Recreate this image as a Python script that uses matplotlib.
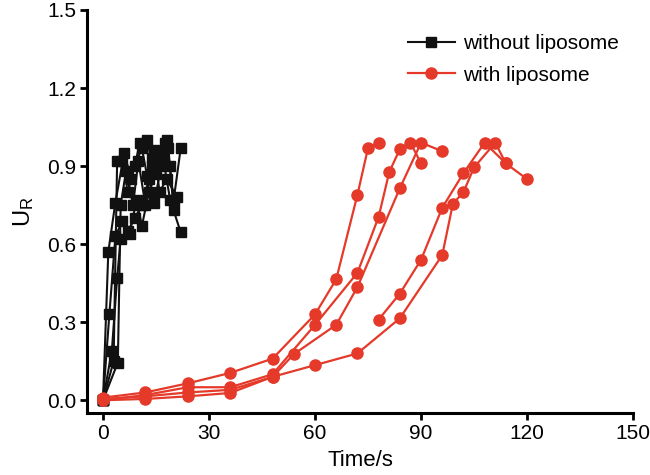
import matplotlib
matplotlib.use("Agg")
import matplotlib.pyplot as plt

plt.rcParams['font.family'] = ['Liberation Sans', 'DejaVu Sans']
plt.rcParams['mathtext.default'] = 'regular'

# without liposome (black squares), several repeats
black_t = [
    [0, 1.5, 3.5, 6, 8, 10.5, 12.5, 14, 16, 18, 20, 22],
    [0, 1.8, 3.5, 5.5, 7.5, 9.5, 11, 13, 15, 17, 19, 22],
    [0, 2.5, 4, 5, 7, 9, 11, 13, 14.5, 16.5, 18.5, 20],
    [0, 3, 4, 5.5, 7, 9, 11, 12.5, 14.5, 16, 18, 21],
    [0, 4.2, 5, 6.5, 8.5, 10, 12, 14, 17.5, 19],
]
black_u = [
    [0, 0.57, 0.76, 0.95, 0.85, 0.99, 1.0, 0.90, 0.95, 1.0, 0.77, 0.97],
    [0, 0.33, 0.63, 0.69, 0.64, 0.77, 0.67, 0.80, 0.87, 0.93, 0.77, 0.645],
    [0, 0.19, 0.47, 0.62, 0.65, 0.70, 0.75, 0.85, 0.76, 0.90, 0.97, 0.73],
    [0, 0.15, 0.92, 0.92, 0.80, 0.90, 0.97, 0.86, 0.96, 0.80, 0.85, 0.78],
    [0, 0.145, 0.75, 0.88, 0.75, 0.92, 0.75, 0.93, 0.99, 0.90],
]

# with liposome (red circles)
red_t = [
    [0, 12, 24, 36, 48, 60, 66, 72, 75, 78],
    [0, 12, 24, 36, 48, 60, 72, 78, 81, 84, 87, 90],
    [0, 12, 24, 36, 48, 54, 66, 72, 84, 90, 96],
    [0, 12, 24, 36, 48, 60, 72, 84, 96, 99, 102, 105, 111, 114, 120],
    [78, 84, 90, 96, 102, 108, 114],
]
red_u = [
    [0.01, 0.03, 0.065, 0.105, 0.16, 0.33, 0.465, 0.79, 0.97, 0.99],
    [0.0, 0.02, 0.05, 0.05, 0.10, 0.29, 0.49, 0.705, 0.877, 0.965, 0.99, 0.91],
    [0.005, 0.015, 0.03, 0.04, 0.09, 0.177, 0.29, 0.435, 0.815, 0.99, 0.957],
    [0.0, 0.005, 0.015, 0.028, 0.09, 0.135, 0.18, 0.315, 0.558, 0.755, 0.80, 0.895, 0.99, 0.91, 0.85],
    [0.31, 0.41, 0.54, 0.74, 0.873, 0.99, 0.91],
]

black = '#111111'
red = '#e5392a'

fig = plt.figure(figsize=(6.5, 4.75), dpi=100)
ax = fig.add_axes([0.134, 0.13, 0.84, 0.849])

for i in range(len(black_t)):
    ax.plot(black_t[i], black_u[i], color=black, marker='s', markersize=7, lw=1.5,
            label='without liposome' if i == 0 else None)
for i in range(len(red_t)):
    ax.plot(red_t[i], red_u[i], color=red, marker='o', markersize=8, lw=1.6,
            label='with liposome' if i == 0 else None)

ax.set_xlim(-4.5, 150)
ax.set_ylim(-0.05, 1.5)
ax.set_xticks([0, 30, 60, 90, 120, 150])
ax.set_yticks([0.0, 0.3, 0.6, 0.9, 1.2, 1.5])
ax.set_yticklabels(['0.0', '0.3', '0.6', '0.9', '1.2', '1.5'])

for s in ['top', 'right']:
    ax.spines[s].set_visible(False)
for s in ['left', 'bottom']:
    ax.spines[s].set_linewidth(2.2)
ax.tick_params(direction='out', length=5, width=2, labelsize=15, pad=3)

ax.set_xlabel('Time/s', fontsize=16, labelpad=5)
ax.set_ylabel('$U_R$', fontsize=17, labelpad=8)

ax.legend(loc='upper left', bbox_to_anchor=(0.621, 0.937), bbox_transform=fig.transFigure,
          frameon=False, fontsize=15, handlelength=2.25, handletextpad=0.38,
          labelspacing=0.6, borderaxespad=0, borderpad=0.2)

fig.savefig('out.png', dpi=100)
